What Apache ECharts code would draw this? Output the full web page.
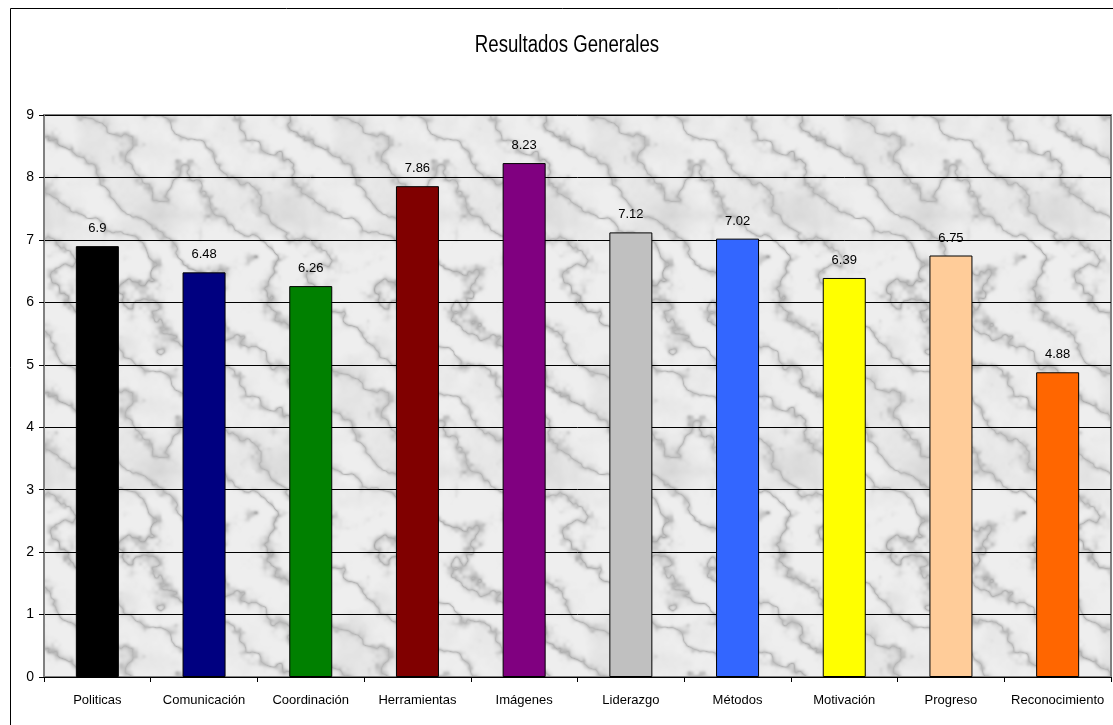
<!DOCTYPE html>
<html>
<head>
<meta charset="utf-8">
<script src="https://cdn.jsdelivr.net/npm/echarts@6/dist/echarts.min.js"></script>
<style>
  html, body { margin: 0; padding: 0; background: #fff; }
  #chart { width: 1113px; height: 725px; }
</style>
</head>
<body>
<div id="chart"></div>
<script>
const categories = ["Politicas", "Comunicación", "Coordinación", "Herramientas", "Imágenes",
  "Liderazgo", "Métodos", "Motivación", "Progreso", "Reconocimiento"];
const values = [6.9, 6.48, 6.26, 7.86, 8.23, 7.12, 7.02, 6.39, 6.75, 4.88];
const barColors = ["#000000", "#000080", "#008000", "#800000", "#800080",
  "#c0c0c0", "#3366ff", "#ffff00", "#ffcc99", "#ff6600"];

const FONT = "'Liberation Sans', Arial, sans-serif";

// tileable marble texture for the plot area (decoration only)
function hash(x, y) {
  let h = (x * 374761393 + y * 668265263) | 0;
  h = (h ^ (h >>> 13)) * 1274126177 | 0;
  return ((h ^ (h >>> 16)) >>> 0) / 4294967295;
}
function noise(x, y, period) {
  const x0 = Math.floor(x), y0 = Math.floor(y);
  const fx = x - x0, fy = y - y0;
  const sx = fx * fx * (3 - 2 * fx), sy = fy * fy * (3 - 2 * fy);
  const m = (v) => ((v % period) + period) % period;
  const a = hash(m(x0), m(y0)), b = hash(m(x0 + 1), m(y0));
  const c = hash(m(x0), m(y0 + 1)), d = hash(m(x0 + 1), m(y0 + 1));
  const top = a + (b - a) * sx, bot = c + (d - c) * sx;
  return top + (bot - top) * sy;
}
function fbm(x, y, size) {
  let sum = 0, amp = 0.5, norm = 0;
  for (let p = 4; p <= 64; p *= 2) {
    sum += amp * noise(x / size * p, y / size * p, p);
    norm += amp;
    amp *= 0.55;
  }
  return sum / norm;
}
function marble() {
  const S = 256;
  const c = document.createElement("canvas");
  c.width = S; c.height = S;
  const ctx = c.getContext("2d");
  const img = ctx.createImageData(S, S);
  for (let y = 0; y < S; y++) {
    for (let x = 0; x < S; x++) {
      const n = fbm(x, y, S);
      const n2 = fbm(x + 97, y + 41, S);
      const t = (x - y) / S * Math.PI * 2 * 2 + n * 8;
      const vein = Math.pow(1 - Math.abs(Math.sin(t)), 3);
      let v = 238 - 50 * vein * (0.6 + n2) - 50 * Math.max(0, 0.5 - n2);
      v = Math.max(140, Math.min(246, Math.round(v)));
      const i = (y * S + x) * 4;
      img.data[i] = img.data[i + 1] = img.data[i + 2] = v;
      img.data[i + 3] = 255;
    }
  }
  ctx.putImageData(img, 0, 0);
  return c;
}

const myChart = echarts.init(document.getElementById("chart"));

const option = {
  backgroundColor: "#fff",
  animation: false,
  textStyle: { fontFamily: FONT },
  graphic: [{
    type: "rect",
    shape: { x: 10.5, y: 8.5, width: 1200, height: 800 },
    style: { fill: "none", stroke: "#000", lineWidth: 1 },
    silent: true
  }, {
    type: "text",
    x: 567, y: 46,
    scaleX: 0.81,
    style: {
      text: "Resultados Generales",
      font: "23px " + FONT,
      fill: "#000",
      textAlign: "center",
      textVerticalAlign: "middle"
    },
    silent: true
  }],
  grid: {
    left: 44, right: 2, top: 115, bottom: 48,
    show: true,
    backgroundColor: { image: marble(), repeat: "repeat" },
    borderColor: "#808080",
    borderWidth: 2
  },
  xAxis: {
    type: "category",
    data: categories,
    axisLine: { lineStyle: { color: "#000", width: 1 } },
    axisTick: { show: true, length: 5, lineStyle: { color: "#000" } },
    axisLabel: { color: "#000", fontSize: 13, margin: 17, interval: 0 }
  },
  yAxis: {
    type: "value",
    min: 0, max: 9, interval: 1,
    axisLine: { show: true, lineStyle: { color: "#808080", width: 2 } },
    axisTick: { show: true, length: 5, lineStyle: { color: "#000" } },
    axisLabel: { color: "#000", fontSize: 14, margin: 10 },
    splitLine: { lineStyle: { color: "#000", width: 1 } }
  },
  series: [{
    type: "bar",
    barWidth: 43,
    data: values.map((v, i) => ({
      value: v,
      itemStyle: { color: barColors[i], borderColor: "#000", borderWidth: 1 }
    })),
    label: {
      show: true,
      position: "top",
      distance: 11,
      color: "#000",
      fontSize: 13
    }
  }]
};

myChart.setOption(option);
</script>
</body>
</html>
